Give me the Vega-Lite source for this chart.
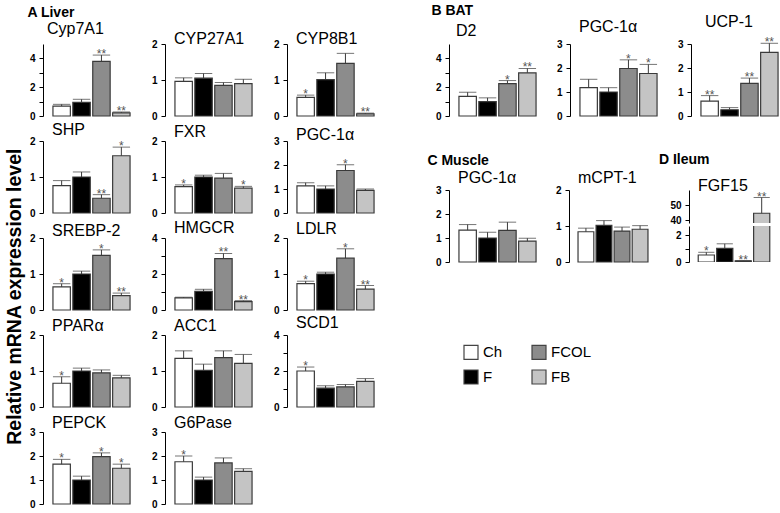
{
"$schema": "https://vega.github.io/schema/vega-lite/v6.json",
"padding": {"left": 4, "top": 4, "right": 0, "bottom": 0},
"background": "white",
"title": {"text": "Relative mRNA expression level", "orient": "left", "anchor": "middle", "frame": "bounds", "fontSize": 19.5, "fontWeight": "bold", "offset": 2, "dx": -40, "dy": 0, "color": "#000"},
"datasets": {"d": [
{"t":"Liver","gene":"Cyp7A1","g":"Ch","v":0.69,"hi":0.81,"s":""},
{"t":"Liver","gene":"Cyp7A1","g":"F","v":0.95,"hi":1.16,"s":""},
{"t":"Liver","gene":"Cyp7A1","g":"FCOL","v":3.79,"hi":4.23,"s":"**"},
{"t":"Liver","gene":"Cyp7A1","g":"FB","v":0.22,"hi":0.28,"s":"**"},
{"t":"Liver","gene":"CYP27A1","g":"Ch","v":0.96,"hi":1.06,"s":""},
{"t":"Liver","gene":"CYP27A1","g":"F","v":1.05,"hi":1.18,"s":""},
{"t":"Liver","gene":"CYP27A1","g":"FCOL","v":0.85,"hi":0.93,"s":""},
{"t":"Liver","gene":"CYP27A1","g":"FB","v":0.9,"hi":1.02,"s":""},
{"t":"Liver","gene":"CYP8B1","g":"Ch","v":0.52,"hi":0.58,"s":"*"},
{"t":"Liver","gene":"CYP8B1","g":"F","v":1.01,"hi":1.2,"s":""},
{"t":"Liver","gene":"CYP8B1","g":"FCOL","v":1.46,"hi":1.74,"s":""},
{"t":"Liver","gene":"CYP8B1","g":"FB","v":0.06,"hi":0.08,"s":"**"},
{"t":"Liver","gene":"SHP","g":"Ch","v":0.76,"hi":0.9,"s":""},
{"t":"Liver","gene":"SHP","g":"F","v":1.0,"hi":1.14,"s":""},
{"t":"Liver","gene":"SHP","g":"FCOL","v":0.41,"hi":0.51,"s":"**"},
{"t":"Liver","gene":"SHP","g":"FB","v":1.59,"hi":1.83,"s":"*"},
{"t":"Liver","gene":"FXR","g":"Ch","v":0.73,"hi":0.78,"s":"*"},
{"t":"Liver","gene":"FXR","g":"F","v":1.0,"hi":1.05,"s":""},
{"t":"Liver","gene":"FXR","g":"FCOL","v":0.97,"hi":1.1,"s":""},
{"t":"Liver","gene":"FXR","g":"FB","v":0.69,"hi":0.74,"s":"*"},
{"t":"Liver","gene":"PGC-1α","g":"Ch","v":1.13,"hi":1.26,"s":""},
{"t":"Liver","gene":"PGC-1α","g":"F","v":1.0,"hi":1.13,"s":""},
{"t":"Liver","gene":"PGC-1α","g":"FCOL","v":1.77,"hi":2.01,"s":"*"},
{"t":"Liver","gene":"PGC-1α","g":"FB","v":0.94,"hi":1.0,"s":""},
{"t":"Liver","gene":"SREBP-2","g":"Ch","v":0.64,"hi":0.73,"s":"*"},
{"t":"Liver","gene":"SREBP-2","g":"F","v":1.0,"hi":1.08,"s":""},
{"t":"Liver","gene":"SREBP-2","g":"FCOL","v":1.52,"hi":1.67,"s":"*"},
{"t":"Liver","gene":"SREBP-2","g":"FB","v":0.4,"hi":0.47,"s":"**"},
{"t":"Liver","gene":"HMGCR","g":"Ch","v":0.67,"hi":0.71,"s":""},
{"t":"Liver","gene":"HMGCR","g":"F","v":1.03,"hi":1.15,"s":""},
{"t":"Liver","gene":"HMGCR","g":"FCOL","v":2.85,"hi":3.14,"s":"**"},
{"t":"Liver","gene":"HMGCR","g":"FB","v":0.46,"hi":0.52,"s":"**"},
{"t":"Liver","gene":"LDLR","g":"Ch","v":0.73,"hi":0.8,"s":"*"},
{"t":"Liver","gene":"LDLR","g":"F","v":1.0,"hi":1.05,"s":""},
{"t":"Liver","gene":"LDLR","g":"FCOL","v":1.44,"hi":1.7,"s":"*"},
{"t":"Liver","gene":"LDLR","g":"FB","v":0.58,"hi":0.68,"s":"**"},
{"t":"Liver","gene":"PPARα","g":"Ch","v":0.66,"hi":0.84,"s":"*"},
{"t":"Liver","gene":"PPARα","g":"F","v":1.0,"hi":1.08,"s":""},
{"t":"Liver","gene":"PPARα","g":"FCOL","v":0.95,"hi":1.03,"s":""},
{"t":"Liver","gene":"PPARα","g":"FB","v":0.81,"hi":0.88,"s":""},
{"t":"Liver","gene":"ACC1","g":"Ch","v":1.35,"hi":1.56,"s":""},
{"t":"Liver","gene":"ACC1","g":"F","v":1.02,"hi":1.19,"s":""},
{"t":"Liver","gene":"ACC1","g":"FCOL","v":1.37,"hi":1.56,"s":""},
{"t":"Liver","gene":"ACC1","g":"FB","v":1.21,"hi":1.46,"s":""},
{"t":"Liver","gene":"SCD1","g":"Ch","v":2.0,"hi":2.22,"s":"*"},
{"t":"Liver","gene":"SCD1","g":"F","v":1.05,"hi":1.18,"s":""},
{"t":"Liver","gene":"SCD1","g":"FCOL","v":1.12,"hi":1.25,"s":""},
{"t":"Liver","gene":"SCD1","g":"FB","v":1.42,"hi":1.58,"s":""},
{"t":"Liver","gene":"PEPCK","g":"Ch","v":1.66,"hi":1.86,"s":"*"},
{"t":"Liver","gene":"PEPCK","g":"F","v":1.0,"hi":1.16,"s":""},
{"t":"Liver","gene":"PEPCK","g":"FCOL","v":1.97,"hi":2.13,"s":"*"},
{"t":"Liver","gene":"PEPCK","g":"FB","v":1.49,"hi":1.66,"s":"*"},
{"t":"Liver","gene":"G6Pase","g":"Ch","v":1.76,"hi":2.0,"s":"*"},
{"t":"Liver","gene":"G6Pase","g":"F","v":1.0,"hi":1.12,"s":""},
{"t":"Liver","gene":"G6Pase","g":"FCOL","v":1.71,"hi":1.92,"s":""},
{"t":"Liver","gene":"G6Pase","g":"FB","v":1.36,"hi":1.47,"s":""},
{"t":"BAT","gene":"D2","g":"Ch","v":1.36,"hi":1.65,"s":""},
{"t":"BAT","gene":"D2","g":"F","v":1.0,"hi":1.26,"s":""},
{"t":"BAT","gene":"D2","g":"FCOL","v":2.25,"hi":2.46,"s":"*"},
{"t":"BAT","gene":"D2","g":"FB","v":3.0,"hi":3.3,"s":"**"},
{"t":"BAT","gene":"PGC-1α","g":"Ch","v":1.18,"hi":1.53,"s":""},
{"t":"BAT","gene":"PGC-1α","g":"F","v":1.0,"hi":1.18,"s":""},
{"t":"BAT","gene":"PGC-1α","g":"FCOL","v":1.98,"hi":2.34,"s":"*"},
{"t":"BAT","gene":"PGC-1α","g":"FB","v":1.77,"hi":2.15,"s":"*"},
{"t":"BAT","gene":"UCP-1","g":"Ch","v":0.62,"hi":0.85,"s":"**"},
{"t":"BAT","gene":"UCP-1","g":"F","v":0.26,"hi":0.35,"s":""},
{"t":"BAT","gene":"UCP-1","g":"FCOL","v":1.36,"hi":1.58,"s":"**"},
{"t":"BAT","gene":"UCP-1","g":"FB","v":2.65,"hi":3.03,"s":"**"},
{"t":"Muscle","gene":"PGC-1α","g":"Ch","v":1.33,"hi":1.56,"s":""},
{"t":"Muscle","gene":"PGC-1α","g":"F","v":1.0,"hi":1.24,"s":""},
{"t":"Muscle","gene":"PGC-1α","g":"FCOL","v":1.32,"hi":1.66,"s":""},
{"t":"Muscle","gene":"PGC-1α","g":"FB","v":0.87,"hi":0.99,"s":""},
{"t":"Muscle","gene":"mCPT-1","g":"Ch","v":0.84,"hi":0.94,"s":""},
{"t":"Muscle","gene":"mCPT-1","g":"F","v":1.02,"hi":1.15,"s":""},
{"t":"Muscle","gene":"mCPT-1","g":"FCOL","v":0.86,"hi":0.97,"s":""},
{"t":"Muscle","gene":"mCPT-1","g":"FB","v":0.91,"hi":1.01,"s":""},
{"t":"Ileum","gene":"FGF15","g":"Ch","v":0.52,"hi":0.72,"s":"*"},
{"t":"Ileum","gene":"FGF15","g":"F","v":1.02,"hi":1.35,"s":""},
{"t":"Ileum","gene":"FGF15","g":"FCOL","v":0.08,"hi":0.1,"s":"**"},
{"t":"Ileum","gene":"FGF15","g":"FB","v":44.5,"hi":55,"s":"**"}
]},
"spacing": 43,
"hconcat": [
{"title": {"text": "A  Liver", "fontSize": 14, "fontWeight": "bold", "frame": "bounds", "dx": -2, "offset": 1},
 "bounds": "flush", "columns": 3, "spacing": {"row": 25, "column": 25},
 "concat": [
 {"title": {"text": "Cyp7A1", "offset": 7, "dx": 4}, "width": 97, "height": 72, "data": {"name": "d"},
  "transform": [{"filter": "datum.t == 'Liver' && datum.gene == 'Cyp7A1'"}],
  "encoding": {"x": {"field": "g", "type": "nominal", "sort": ["Ch","F","FCOL","FB"], "axis": null},
   "y": {"field": "v", "type": "quantitative", "title": null, "scale": {"domain": [0,5], "nice": false}, "axis": {"values": [0,1,2,3,4], "labelExpr": "datum.value % 2 ? '' : datum.label"}}},
  "layer": [
   {"mark": "bar", "encoding": {"fill": {"field": "g", "type": "nominal", "scale": {"domain": ["Ch","F","FCOL","FB"], "range": ["#ffffff","#000000","#8c8c8c","#c4c4c4"]}, "legend": {"title": null}}}},
   {"mark": "rule", "encoding": {"y2": {"field": "hi"}}},
   {"mark": "tick", "encoding": {"y": {"field": "hi", "type": "quantitative", "title": null}}},
   {"mark": "text", "encoding": {"y": {"field": "hi", "type": "quantitative", "title": null}, "text": {"field": "s"}}}]},
 {"title": {"text": "CYP27A1", "offset": -8}, "width": 97, "height": 72, "data": {"name": "d"},
  "transform": [{"filter": "datum.t == 'Liver' && datum.gene == 'CYP27A1'"}],
  "encoding": {"x": {"field": "g", "type": "nominal", "sort": ["Ch","F","FCOL","FB"], "axis": null},
   "y": {"field": "v", "type": "quantitative", "title": null, "scale": {"domain": [0,2], "nice": false}, "axis": {"values": [0,1,2]}}},
  "layer": [
   {"mark": "bar", "encoding": {"fill": {"field": "g", "type": "nominal", "scale": {"domain": ["Ch","F","FCOL","FB"], "range": ["#ffffff","#000000","#8c8c8c","#c4c4c4"]}, "legend": {"title": null}}}},
   {"mark": "rule", "encoding": {"y2": {"field": "hi"}}},
   {"mark": "tick", "encoding": {"y": {"field": "hi", "type": "quantitative", "title": null}}},
   {"mark": "text", "encoding": {"y": {"field": "hi", "type": "quantitative", "title": null}, "text": {"field": "s"}}}]},
 {"title": {"text": "CYP8B1", "offset": -8}, "width": 97, "height": 72, "data": {"name": "d"},
  "transform": [{"filter": "datum.t == 'Liver' && datum.gene == 'CYP8B1'"}],
  "encoding": {"x": {"field": "g", "type": "nominal", "sort": ["Ch","F","FCOL","FB"], "axis": null},
   "y": {"field": "v", "type": "quantitative", "title": null, "scale": {"domain": [0,2], "nice": false}, "axis": {"values": [0,1,2]}}},
  "layer": [
   {"mark": "bar", "encoding": {"fill": {"field": "g", "type": "nominal", "scale": {"domain": ["Ch","F","FCOL","FB"], "range": ["#ffffff","#000000","#8c8c8c","#c4c4c4"]}, "legend": {"title": null}}}},
   {"mark": "rule", "encoding": {"y2": {"field": "hi"}}},
   {"mark": "tick", "encoding": {"y": {"field": "hi", "type": "quantitative", "title": null}}},
   {"mark": "text", "encoding": {"y": {"field": "hi", "type": "quantitative", "title": null}, "text": {"field": "s"}}}]},
 {"title": {"text": "SHP", "offset": -2}, "width": 97, "height": 72, "data": {"name": "d"},
  "transform": [{"filter": "datum.t == 'Liver' && datum.gene == 'SHP'"}],
  "encoding": {"x": {"field": "g", "type": "nominal", "sort": ["Ch","F","FCOL","FB"], "axis": null},
   "y": {"field": "v", "type": "quantitative", "title": null, "scale": {"domain": [0,2], "nice": false}, "axis": {"values": [0,1,2]}}},
  "layer": [
   {"mark": "bar", "encoding": {"fill": {"field": "g", "type": "nominal", "scale": {"domain": ["Ch","F","FCOL","FB"], "range": ["#ffffff","#000000","#8c8c8c","#c4c4c4"]}, "legend": {"title": null}}}},
   {"mark": "rule", "encoding": {"y2": {"field": "hi"}}},
   {"mark": "tick", "encoding": {"y": {"field": "hi", "type": "quantitative", "title": null}}},
   {"mark": "text", "encoding": {"y": {"field": "hi", "type": "quantitative", "title": null}, "text": {"field": "s"}}}]},
 {"title": {"text": "FXR", "offset": -4}, "width": 97, "height": 72, "data": {"name": "d"},
  "transform": [{"filter": "datum.t == 'Liver' && datum.gene == 'FXR'"}],
  "encoding": {"x": {"field": "g", "type": "nominal", "sort": ["Ch","F","FCOL","FB"], "axis": null},
   "y": {"field": "v", "type": "quantitative", "title": null, "scale": {"domain": [0,2], "nice": false}, "axis": {"values": [0,1,2]}}},
  "layer": [
   {"mark": "bar", "encoding": {"fill": {"field": "g", "type": "nominal", "scale": {"domain": ["Ch","F","FCOL","FB"], "range": ["#ffffff","#000000","#8c8c8c","#c4c4c4"]}, "legend": {"title": null}}}},
   {"mark": "rule", "encoding": {"y2": {"field": "hi"}}},
   {"mark": "tick", "encoding": {"y": {"field": "hi", "type": "quantitative", "title": null}}},
   {"mark": "text", "encoding": {"y": {"field": "hi", "type": "quantitative", "title": null}, "text": {"field": "s"}}}]},
 {"title": {"text": "PGC-1α", "offset": -7}, "width": 97, "height": 72, "data": {"name": "d"},
  "transform": [{"filter": "datum.t == 'Liver' && datum.gene == 'PGC-1α'"}],
  "encoding": {"x": {"field": "g", "type": "nominal", "sort": ["Ch","F","FCOL","FB"], "axis": null},
   "y": {"field": "v", "type": "quantitative", "title": null, "scale": {"domain": [0,3], "nice": false}, "axis": {"values": [0,1,2,3]}}},
  "layer": [
   {"mark": "bar", "encoding": {"fill": {"field": "g", "type": "nominal", "scale": {"domain": ["Ch","F","FCOL","FB"], "range": ["#ffffff","#000000","#8c8c8c","#c4c4c4"]}, "legend": {"title": null}}}},
   {"mark": "rule", "encoding": {"y2": {"field": "hi"}}},
   {"mark": "tick", "encoding": {"y": {"field": "hi", "type": "quantitative", "title": null}}},
   {"mark": "text", "encoding": {"y": {"field": "hi", "type": "quantitative", "title": null}, "text": {"field": "s"}}}]},
 {"title": {"text": "SREBP-2", "offset": -6}, "width": 97, "height": 72, "data": {"name": "d"},
  "transform": [{"filter": "datum.t == 'Liver' && datum.gene == 'SREBP-2'"}],
  "encoding": {"x": {"field": "g", "type": "nominal", "sort": ["Ch","F","FCOL","FB"], "axis": null},
   "y": {"field": "v", "type": "quantitative", "title": null, "scale": {"domain": [0,2], "nice": false}, "axis": {"values": [0,1,2]}}},
  "layer": [
   {"mark": "bar", "encoding": {"fill": {"field": "g", "type": "nominal", "scale": {"domain": ["Ch","F","FCOL","FB"], "range": ["#ffffff","#000000","#8c8c8c","#c4c4c4"]}, "legend": {"title": null}}}},
   {"mark": "rule", "encoding": {"y2": {"field": "hi"}}},
   {"mark": "tick", "encoding": {"y": {"field": "hi", "type": "quantitative", "title": null}}},
   {"mark": "text", "encoding": {"y": {"field": "hi", "type": "quantitative", "title": null}, "text": {"field": "s"}}}]},
 {"title": {"text": "HMGCR", "offset": -3}, "width": 97, "height": 72, "data": {"name": "d"},
  "transform": [{"filter": "datum.t == 'Liver' && datum.gene == 'HMGCR'"}],
  "encoding": {"x": {"field": "g", "type": "nominal", "sort": ["Ch","F","FCOL","FB"], "axis": null},
   "y": {"field": "v", "type": "quantitative", "title": null, "scale": {"domain": [0,4], "nice": false}, "axis": {"values": [0,1,2,3,4], "labelExpr": "datum.value % 2 ? '' : datum.label"}}},
  "layer": [
   {"mark": "bar", "encoding": {"fill": {"field": "g", "type": "nominal", "scale": {"domain": ["Ch","F","FCOL","FB"], "range": ["#ffffff","#000000","#8c8c8c","#c4c4c4"]}, "legend": {"title": null}}}},
   {"mark": "rule", "encoding": {"y2": {"field": "hi"}}},
   {"mark": "tick", "encoding": {"y": {"field": "hi", "type": "quantitative", "title": null}}},
   {"mark": "text", "encoding": {"y": {"field": "hi", "type": "quantitative", "title": null}, "text": {"field": "s"}}}]},
 {"title": {"text": "LDLR", "offset": -4}, "width": 97, "height": 72, "data": {"name": "d"},
  "transform": [{"filter": "datum.t == 'Liver' && datum.gene == 'LDLR'"}],
  "encoding": {"x": {"field": "g", "type": "nominal", "sort": ["Ch","F","FCOL","FB"], "axis": null},
   "y": {"field": "v", "type": "quantitative", "title": null, "scale": {"domain": [0,2], "nice": false}, "axis": {"values": [0,1,2]}}},
  "layer": [
   {"mark": "bar", "encoding": {"fill": {"field": "g", "type": "nominal", "scale": {"domain": ["Ch","F","FCOL","FB"], "range": ["#ffffff","#000000","#8c8c8c","#c4c4c4"]}, "legend": {"title": null}}}},
   {"mark": "rule", "encoding": {"y2": {"field": "hi"}}},
   {"mark": "tick", "encoding": {"y": {"field": "hi", "type": "quantitative", "title": null}}},
   {"mark": "text", "encoding": {"y": {"field": "hi", "type": "quantitative", "title": null}, "text": {"field": "s"}}}]},
 {"title": {"text": "PPARα", "offset": -4}, "width": 97, "height": 72, "data": {"name": "d"},
  "transform": [{"filter": "datum.t == 'Liver' && datum.gene == 'PPARα'"}],
  "encoding": {"x": {"field": "g", "type": "nominal", "sort": ["Ch","F","FCOL","FB"], "axis": null},
   "y": {"field": "v", "type": "quantitative", "title": null, "scale": {"domain": [0,2], "nice": false}, "axis": {"values": [0,1,2]}}},
  "layer": [
   {"mark": "bar", "encoding": {"fill": {"field": "g", "type": "nominal", "scale": {"domain": ["Ch","F","FCOL","FB"], "range": ["#ffffff","#000000","#8c8c8c","#c4c4c4"]}, "legend": {"title": null}}}},
   {"mark": "rule", "encoding": {"y2": {"field": "hi"}}},
   {"mark": "tick", "encoding": {"y": {"field": "hi", "type": "quantitative", "title": null}}},
   {"mark": "text", "encoding": {"y": {"field": "hi", "type": "quantitative", "title": null}, "text": {"field": "s"}}}]},
 {"title": {"text": "ACC1", "offset": -4}, "width": 97, "height": 72, "data": {"name": "d"},
  "transform": [{"filter": "datum.t == 'Liver' && datum.gene == 'ACC1'"}],
  "encoding": {"x": {"field": "g", "type": "nominal", "sort": ["Ch","F","FCOL","FB"], "axis": null},
   "y": {"field": "v", "type": "quantitative", "title": null, "scale": {"domain": [0,2], "nice": false}, "axis": {"values": [0,1,2]}}},
  "layer": [
   {"mark": "bar", "encoding": {"fill": {"field": "g", "type": "nominal", "scale": {"domain": ["Ch","F","FCOL","FB"], "range": ["#ffffff","#000000","#8c8c8c","#c4c4c4"]}, "legend": {"title": null}}}},
   {"mark": "rule", "encoding": {"y2": {"field": "hi"}}},
   {"mark": "tick", "encoding": {"y": {"field": "hi", "type": "quantitative", "title": null}}},
   {"mark": "text", "encoding": {"y": {"field": "hi", "type": "quantitative", "title": null}, "text": {"field": "s"}}}]},
 {"title": {"text": "SCD1", "offset": -1}, "width": 97, "height": 72, "data": {"name": "d"},
  "transform": [{"filter": "datum.t == 'Liver' && datum.gene == 'SCD1'"}],
  "encoding": {"x": {"field": "g", "type": "nominal", "sort": ["Ch","F","FCOL","FB"], "axis": null},
   "y": {"field": "v", "type": "quantitative", "title": null, "scale": {"domain": [0,4], "nice": false}, "axis": {"values": [0,1,2,3,4], "labelExpr": "datum.value % 2 ? '' : datum.label"}}},
  "layer": [
   {"mark": "bar", "encoding": {"fill": {"field": "g", "type": "nominal", "scale": {"domain": ["Ch","F","FCOL","FB"], "range": ["#ffffff","#000000","#8c8c8c","#c4c4c4"]}, "legend": {"title": null}}}},
   {"mark": "rule", "encoding": {"y2": {"field": "hi"}}},
   {"mark": "tick", "encoding": {"y": {"field": "hi", "type": "quantitative", "title": null}}},
   {"mark": "text", "encoding": {"y": {"field": "hi", "type": "quantitative", "title": null}, "text": {"field": "s"}}}]},
 {"title": {"text": "PEPCK", "offset": -4}, "width": 97, "height": 72, "data": {"name": "d"},
  "transform": [{"filter": "datum.t == 'Liver' && datum.gene == 'PEPCK'"}],
  "encoding": {"x": {"field": "g", "type": "nominal", "sort": ["Ch","F","FCOL","FB"], "axis": null},
   "y": {"field": "v", "type": "quantitative", "title": null, "scale": {"domain": [0,3], "nice": false}, "axis": {"values": [0,1,2,3]}}},
  "layer": [
   {"mark": "bar", "encoding": {"fill": {"field": "g", "type": "nominal", "scale": {"domain": ["Ch","F","FCOL","FB"], "range": ["#ffffff","#000000","#8c8c8c","#c4c4c4"]}, "legend": {"title": null}}}},
   {"mark": "rule", "encoding": {"y2": {"field": "hi"}}},
   {"mark": "tick", "encoding": {"y": {"field": "hi", "type": "quantitative", "title": null}}},
   {"mark": "text", "encoding": {"y": {"field": "hi", "type": "quantitative", "title": null}, "text": {"field": "s"}}}]},
 {"title": {"text": "G6Pase", "offset": -4}, "width": 97, "height": 72, "data": {"name": "d"},
  "transform": [{"filter": "datum.t == 'Liver' && datum.gene == 'G6Pase'"}],
  "encoding": {"x": {"field": "g", "type": "nominal", "sort": ["Ch","F","FCOL","FB"], "axis": null},
   "y": {"field": "v", "type": "quantitative", "title": null, "scale": {"domain": [0,3], "nice": false}, "axis": {"values": [0,1,2,3]}}},
  "layer": [
   {"mark": "bar", "encoding": {"fill": {"field": "g", "type": "nominal", "scale": {"domain": ["Ch","F","FCOL","FB"], "range": ["#ffffff","#000000","#8c8c8c","#c4c4c4"]}, "legend": {"title": null}}}},
   {"mark": "rule", "encoding": {"y2": {"field": "hi"}}},
   {"mark": "tick", "encoding": {"y": {"field": "hi", "type": "quantitative", "title": null}}},
   {"mark": "text", "encoding": {"y": {"field": "hi", "type": "quantitative", "title": null}, "text": {"field": "s"}}}]}
 ]},
{"spacing": 32,
 "vconcat": [
 {"title": {"text": "B  BAT", "fontSize": 14, "fontWeight": "bold", "frame": "bounds", "dx": -4, "offset": -4},
  "bounds": "flush", "spacing": 24,
  "hconcat": [
  {"title": {"text": "D2", "offset": 5, "dx": 7}, "width": 97, "height": 72, "data": {"name": "d"},
   "transform": [{"filter": "datum.t == 'BAT' && datum.gene == 'D2'"}],
   "encoding": {"x": {"field": "g", "type": "nominal", "sort": ["Ch","F","FCOL","FB"], "axis": null},
    "y": {"field": "v", "type": "quantitative", "title": null, "scale": {"domain": [0,5], "nice": false}, "axis": {"values": [0,1,2,3,4], "labelExpr": "datum.value % 2 ? '' : datum.label"}}},
   "layer": [
    {"mark": "bar", "encoding": {"fill": {"field": "g", "type": "nominal", "scale": {"domain": ["Ch","F","FCOL","FB"], "range": ["#ffffff","#000000","#8c8c8c","#c4c4c4"]}, "legend": {"title": null}}}},
    {"mark": "rule", "encoding": {"y2": {"field": "hi"}}},
    {"mark": "tick", "encoding": {"y": {"field": "hi", "type": "quantitative", "title": null}}},
    {"mark": "text", "encoding": {"y": {"field": "hi", "type": "quantitative", "title": null}, "text": {"field": "s"}}}]},
  {"title": {"text": "PGC-1α", "offset": 4}, "width": 97, "height": 72, "data": {"name": "d"},
   "transform": [{"filter": "datum.t == 'BAT' && datum.gene == 'PGC-1α'"}],
   "encoding": {"x": {"field": "g", "type": "nominal", "sort": ["Ch","F","FCOL","FB"], "axis": null},
    "y": {"field": "v", "type": "quantitative", "title": null, "scale": {"domain": [0,3], "nice": false}, "axis": {"values": [0,1,2,3]}}},
   "layer": [
    {"mark": "bar", "encoding": {"fill": {"field": "g", "type": "nominal", "scale": {"domain": ["Ch","F","FCOL","FB"], "range": ["#ffffff","#000000","#8c8c8c","#c4c4c4"]}, "legend": {"title": null}}}},
    {"mark": "rule", "encoding": {"y2": {"field": "hi"}}},
    {"mark": "tick", "encoding": {"y": {"field": "hi", "type": "quantitative", "title": null}}},
    {"mark": "text", "encoding": {"y": {"field": "hi", "type": "quantitative", "title": null}, "text": {"field": "s"}}}]},
  {"title": {"text": "UCP-1", "offset": 6, "dx": 14}, "width": 97, "height": 72, "data": {"name": "d"},
   "transform": [{"filter": "datum.t == 'BAT' && datum.gene == 'UCP-1'"}],
   "encoding": {"x": {"field": "g", "type": "nominal", "sort": ["Ch","F","FCOL","FB"], "axis": null},
    "y": {"field": "v", "type": "quantitative", "title": null, "scale": {"domain": [0,3], "nice": false}, "axis": {"values": [0,1,2,3]}}},
   "layer": [
    {"mark": "bar", "encoding": {"fill": {"field": "g", "type": "nominal", "scale": {"domain": ["Ch","F","FCOL","FB"], "range": ["#ffffff","#000000","#8c8c8c","#c4c4c4"]}, "legend": {"title": null}}}},
    {"mark": "rule", "encoding": {"y2": {"field": "hi"}}},
    {"mark": "tick", "encoding": {"y": {"field": "hi", "type": "quantitative", "title": null}}},
    {"mark": "text", "encoding": {"y": {"field": "hi", "type": "quantitative", "title": null}, "text": {"field": "s"}}}]}
  ]},
 {"spacing": 1,
  "hconcat": [
  {"title": {"text": "C   Muscle", "fontSize": 14, "fontWeight": "bold", "frame": "bounds", "dx": -8, "offset": 2},
   "bounds": "flush", "spacing": 23,
   "hconcat": [
   {"title": {"text": "PGC-1α", "offset": -1}, "width": 97, "height": 72, "data": {"name": "d"},
    "transform": [{"filter": "datum.t == 'Muscle' && datum.gene == 'PGC-1α'"}],
    "encoding": {"x": {"field": "g", "type": "nominal", "sort": ["Ch","F","FCOL","FB"], "axis": null},
     "y": {"field": "v", "type": "quantitative", "title": null, "scale": {"domain": [0,3], "nice": false}, "axis": {"values": [0,1,2,3]}}},
    "layer": [
     {"mark": "bar", "encoding": {"fill": {"field": "g", "type": "nominal", "scale": {"domain": ["Ch","F","FCOL","FB"], "range": ["#ffffff","#000000","#8c8c8c","#c4c4c4"]}, "legend": {"title": null}}}},
     {"mark": "rule", "encoding": {"y2": {"field": "hi"}}},
     {"mark": "tick", "encoding": {"y": {"field": "hi", "type": "quantitative", "title": null}}},
     {"mark": "text", "encoding": {"y": {"field": "hi", "type": "quantitative", "title": null}, "text": {"field": "s"}}}]},
   {"title": {"text": "mCPT-1", "offset": -1}, "width": 88, "height": 72, "data": {"name": "d"},
    "transform": [{"filter": "datum.t == 'Muscle' && datum.gene == 'mCPT-1'"}],
    "encoding": {"x": {"field": "g", "type": "nominal", "sort": ["Ch","F","FCOL","FB"], "axis": null},
     "y": {"field": "v", "type": "quantitative", "title": null, "scale": {"domain": [0,2], "nice": false}, "axis": {"values": [0,1,2]}}},
    "layer": [
     {"mark": "bar", "encoding": {"fill": {"field": "g", "type": "nominal", "scale": {"domain": ["Ch","F","FCOL","FB"], "range": ["#ffffff","#000000","#8c8c8c","#c4c4c4"]}, "legend": {"title": null}}}},
     {"mark": "rule", "encoding": {"y2": {"field": "hi"}}},
     {"mark": "tick", "encoding": {"y": {"field": "hi", "type": "quantitative", "title": null}}},
     {"mark": "text", "encoding": {"y": {"field": "hi", "type": "quantitative", "title": null}, "text": {"field": "s"}}}]}
   ]},
  {"title": {"text": "D   Ileum", "fontSize": 14, "fontWeight": "bold", "frame": "bounds", "dx": -11, "offset": 11},
   "bounds": "flush", "spacing": 3,
   "vconcat": [
   {"title": {"text": "FGF15", "offset": -4}, "width": 90, "height": 33, "data": {"name": "d"},
    "transform": [{"filter": "datum.t == 'Ileum' && datum.gene == 'FGF15'"}],
    "encoding": {"x": {"field": "g", "type": "nominal", "sort": ["Ch","F","FCOL","FB"], "axis": null},
     "y": {"field": "v", "type": "quantitative", "title": null, "scale": {"domain": [38,60], "nice": false}, "axis": {"values": [40,50]}}},
    "layer": [
     {"mark": {"type": "bar", "clip": true}, "encoding": {"fill": {"field": "g", "type": "nominal", "scale": {"domain": ["Ch","F","FCOL","FB"], "range": ["#ffffff","#000000","#8c8c8c","#c4c4c4"]}, "legend": {"title": null}}}},
     {"mark": {"type": "rule", "clip": true}, "encoding": {"y2": {"field": "hi"}}},
     {"mark": {"type": "tick", "clip": true}, "encoding": {"y": {"field": "hi", "type": "quantitative", "title": null}}},
     {"transform": [{"filter": "datum.hi >= 38"}], "mark": {"type": "text", "clip": true}, "encoding": {"y": {"field": "hi", "type": "quantitative", "title": null}, "text": {"field": "s"}}}]},
   {"width": 90, "height": 36, "data": {"name": "d"},
    "transform": [{"filter": "datum.t == 'Ileum' && datum.gene == 'FGF15'"}],
    "encoding": {"x": {"field": "g", "type": "nominal", "sort": ["Ch","F","FCOL","FB"], "axis": null},
     "y": {"field": "v", "type": "quantitative", "title": null, "scale": {"domain": [0,2.67], "nice": false}, "axis": {"values": [0,1,2], "labelExpr": "datum.value == 1 ? '' : datum.label"}}},
    "layer": [
     {"mark": {"type": "bar", "clip": true}, "encoding": {"fill": {"field": "g", "type": "nominal", "scale": {"domain": ["Ch","F","FCOL","FB"], "range": ["#ffffff","#000000","#8c8c8c","#c4c4c4"]}, "legend": {"title": null}}}},
     {"mark": {"type": "rule", "clip": true}, "encoding": {"y2": {"field": "hi"}}},
     {"mark": {"type": "tick", "clip": true}, "encoding": {"y": {"field": "hi", "type": "quantitative", "title": null}}},
     {"transform": [{"filter": "datum.hi <= 2.67"}], "mark": {"type": "text", "clip": true}, "encoding": {"y": {"field": "hi", "type": "quantitative", "title": null}, "text": {"field": "s"}}}]}
   ]}
  ]}
 ]}
],
"config": {
 "view": {"stroke": null},
 "font": "Liberation Sans",
 "scale": {"bandPaddingInner": 0.125, "bandPaddingOuter": 0.5},
 "axis": {"domainColor": "#000", "domainWidth": 1, "tickColor": "#000", "tickSize": 4, "labelFontSize": 10, "labelFontWeight": "bold", "labelColor": "#000", "labelPadding": 4, "grid": false, "format": "d"},
 "bar": {"stroke": "#3a3a3a", "strokeWidth": 1.2},
 "rule": {"color": "#3a3a3a", "strokeWidth": 1},
 "tick": {"color": "#3a3a3a", "thickness": 1, "bandSize": 7},
 "text": {"fontSize": 12, "color": "#555", "baseline": "alphabetic", "dy": 3},
 "title": {"fontSize": 16, "fontWeight": "normal", "anchor": "start", "frame": "group", "dx": 9, "baseline": "alphabetic", "color": "#000"},
 "legend": {"orient": "none", "legendX": 420, "legendY": 300, "columns": 2, "symbolType": "square", "symbolSize": 196, "symbolStrokeColor": "#444", "symbolStrokeWidth": 1, "symbolOpacity": 1, "labelFontSize": 15, "labelColor": "#000", "labelOffset": 4, "columnPadding": 26, "rowPadding": 5}
}
}
